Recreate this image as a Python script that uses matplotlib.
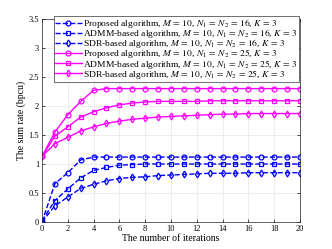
import numpy as np
import matplotlib
matplotlib.use("Agg")
import matplotlib.pyplot as plt

plt.rcParams['font.family'] = 'serif'
plt.rcParams['font.serif'] = ['Liberation Serif', 'DejaVu Serif']
plt.rcParams['mathtext.fontset'] = 'stix'

iters = np.arange(0, 21)

# N1 = N2 = 16 (blue, dashed)
prop_16 = [0.0, 0.66, 0.85, 1.07, 1.12, 1.12, 1.12, 1.12, 1.12, 1.12, 1.12,
           1.12, 1.12, 1.12, 1.12, 1.12, 1.12, 1.12, 1.12, 1.12, 1.12]
admm_16 = [0.02, 0.37, 0.57, 0.76, 0.89, 0.94, 0.98, 0.99, 1.0, 1.0, 1.0,
           1.0, 1.0, 1.0, 1.0, 1.0, 1.0, 1.0, 1.0, 1.0, 1.0]
sdr_16 = [0.0, 0.28, 0.43, 0.58, 0.65, 0.71, 0.75, 0.77, 0.78, 0.80, 0.81,
          0.82, 0.83, 0.84, 0.84, 0.84, 0.85, 0.85, 0.85, 0.85, 0.85]

# N1 = N2 = 25 (magenta, solid)
prop_25 = [1.13, 1.55, 1.85, 2.08, 2.27, 2.30, 2.30, 2.30, 2.30, 2.30, 2.30,
           2.30, 2.30, 2.30, 2.30, 2.30, 2.30, 2.30, 2.30, 2.30, 2.30]
admm_25 = [1.13, 1.48, 1.64, 1.81, 1.90, 1.97, 2.02, 2.05, 2.07, 2.08, 2.08,
           2.08, 2.08, 2.09, 2.09, 2.09, 2.09, 2.09, 2.09, 2.09, 2.09]
sdr_25 = [1.13, 1.35, 1.46, 1.57, 1.64, 1.70, 1.74, 1.77, 1.79, 1.81, 1.82,
          1.83, 1.84, 1.85, 1.86, 1.86, 1.87, 1.87, 1.87, 1.87, 1.87]

lab16 = r', $M\,=\,10$, $N_1\,=\,N_2\,=\,16$, $K\,=\,3$'
lab25 = r', $M\,=\,10$, $N_1\,=\,N_2\,=\,25$, $K\,=\,3$'

fig = plt.figure(figsize=(3.32, 2.49), dpi=100)
ax = fig.add_axes([0.1265, 0.1084, 0.777, 0.8153])

kw = dict(lw=1.0, ms=3.5, mfc='none', mew=0.9)
ax.plot(iters, prop_16, '--o', color='blue', label='Proposed algorithm' + lab16, **kw)
ax.plot(iters, admm_16, '--s', color='blue', label='ADMM-based algorithm' + lab16, **kw)
ax.plot(iters, sdr_16, '--d', color='blue', label='SDR-based algorithm' + lab16, **kw)
ax.plot(iters, prop_25, '-o', color='magenta', label='Proposed algorithm' + lab25, **kw)
ax.plot(iters, admm_25, '-s', color='magenta', label='ADMM-based algorithm' + lab25, **kw)
ax.plot(iters, sdr_25, '-d', color='magenta', label='SDR-based algorithm' + lab25, **kw)

ax.set_xlim(0, 20)
ax.set_ylim(0, 3.5)
ax.set_xticks(np.arange(0, 21, 2))
ax.set_yticks(np.arange(0, 3.6, 0.5))
ax.set_yticklabels(['0', '0.5', '1', '1.5', '2', '2.5', '3', '3.5'])
ax.tick_params(labelsize=6, direction='in', length=2, width=0.5, top=True, right=True, pad=2)
ax.grid(True, color='#e6e6e6', lw=0.5)
for s in ax.spines.values():
    s.set_linewidth(0.5)
    s.set_color('#262626')

ax.set_xlabel('The number of iterations', fontsize=7, labelpad=1)
ax.set_ylabel('The sum rate (bpcu)', fontsize=7, labelpad=2)

leg = ax.legend(loc='upper left', bbox_to_anchor=(0.047, 1.015), fontsize=6.8,
                fancybox=False, edgecolor='#555555', framealpha=1,
                handlelength=2.8, handletextpad=0.2, borderpad=0.1,
                labelspacing=-0.3, borderaxespad=0)
leg.get_frame().set_linewidth(0.6)

fig.savefig('out.png', dpi=100)
